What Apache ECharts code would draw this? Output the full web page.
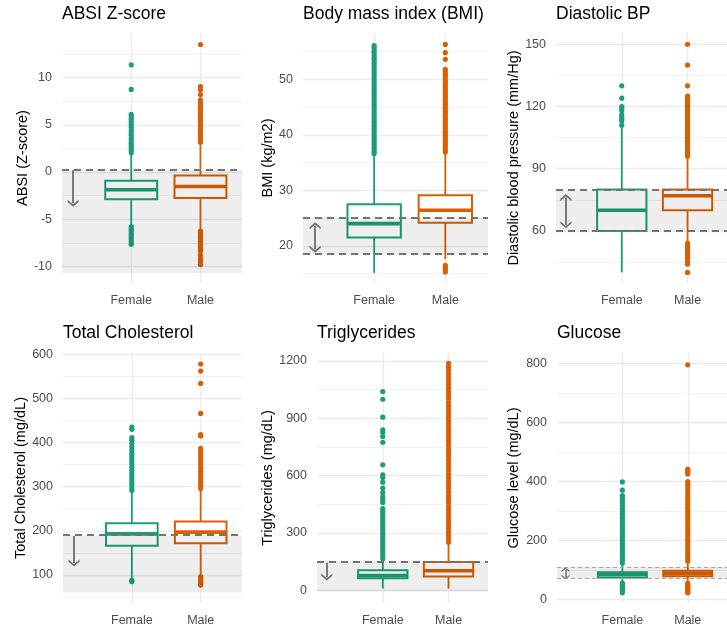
<!DOCTYPE html>
<html><head><meta charset="utf-8">
<script src="https://cdn.jsdelivr.net/npm/echarts@6/dist/echarts.min.js"></script>
<style>html,body{margin:0;padding:0;background:#fff}#c{width:727px;height:631px}</style>
</head><body><div id="c"></div>
<script>
// ---------- data ----------
const categories = ['Female', 'Male'];

// box stats per category: [lower whisker, Q1, median, Q3, upper whisker]
const absiBox = [[-5.65, -2.87, -1.88, -0.93, 1.95], [-6.1, -2.76, -1.53, -0.37, 3.05]];
const absiOutF = [2.05, 2.3, 2.55, 2.8, 3.05, 3.35, 3.6, 3.9, 4.2, 4.45, 4.75, 5.0, 5.3, 5.6, 5.85, 6.1, 8.75, 11.35, -5.8, -6.05, -6.3, -6.6, -6.85, -7.1, -7.4, -7.65];
const absiOutM = [3.15, 3.4, 3.7, 3.95, 4.25, 4.5, 4.8, 5.1, 5.35, 5.65, 5.9, 6.2, 6.45, 6.75, 6.95, 7.3, 7.65, 8.2, 8.7, 9.05, 13.5, -6.25, -6.5, -6.8, -7.05, -7.35, -7.6, -7.9, -8.15, -8.35, -8.8, -9.2, -9.5, -9.8];
const absiRange = [-11.75, 14.72];
const absiTicks = [-10, -5, 0, 5, 10];
const absiMinor = [-7.5, -2.5, 2.5, 7.5, 12.5];
const absiRefs = [0.25];
const absiShade = [0.25, -10.7];
const absiArrow = [0.16, 0.2, -3.3];

const bmiBox = [[15.1, 21.5, 24.0, 27.5, 36.3], [17.6, 24.15, 26.4, 29.1, 36.6]];
const bmiOutF = [36.6, 37.0, 37.5, 38.0, 38.4, 38.9, 39.4, 39.8, 40.3, 40.8, 41.2, 41.7, 42.2, 42.6, 43.1, 43.6, 44.0, 44.5, 45.0, 45.4, 45.9, 46.4, 46.8, 47.3, 47.8, 48.2, 48.7, 49.2, 49.6, 50.1, 50.6, 51.0, 51.5, 52.0, 52.4, 52.9, 53.4, 53.8, 54.3, 54.8, 55.2, 55.7, 56.1];
const bmiOutM = [36.9, 37.3, 37.8, 38.3, 38.7, 39.2, 39.7, 40.1, 40.6, 41.1, 41.5, 42.0, 42.5, 42.9, 43.4, 43.9, 44.3, 44.8, 45.3, 45.7, 46.2, 46.7, 47.1, 47.6, 48.1, 48.5, 49.0, 49.5, 49.9, 50.4, 50.9, 51.3, 51.8, 53.6, 54.8, 56.3, 16.5, 16.1, 15.7, 15.3];
const bmiRange = [13.3, 58.35];
const bmiTicks = [20, 30, 40, 50];
const bmiMinor = [15, 25, 35, 45, 55];
const bmiRefs = [25, 18.5];
const bmiShade = [25, 18.5];
const bmiArrow = [0.17, 23.6, 19.4];

const dbpBox = [[40, 60, 70, 80, 110], [55, 70, 77, 80, 95]];
const dbpOutF = [111, 113, 114, 115, 116, 118, 119, 120, 124, 130];
const dbpOutM = [96, 97, 98, 99, 100, 101, 102, 103, 104, 105, 106, 107, 108, 109, 110, 111, 112, 113, 114, 115, 116, 117, 118, 119, 120, 121, 122, 123, 124, 125, 130, 140, 150, 54, 53, 52, 51, 50, 49, 48, 47, 46, 45, 44, 40];
const dbpRange = [34.9, 155.45];
const dbpTicks = [60, 90, 120, 150];
const dbpMinor = [45, 75, 105, 135];
const dbpRefs = [80, 60];
const dbpShade = [80, 60];
const dbpArrow = [0.15, 76.1, 63.0];

const cholBox = [[91, 166, 193, 217, 288], [99, 172, 197, 221, 292]];
const cholOutF = [292, 298, 305, 311, 318, 324, 331, 337, 344, 350, 357, 363, 370, 376, 383, 390, 398, 405, 411, 430, 435, 88, 85];
const cholOutM = [296, 302, 309, 315, 322, 328, 335, 341, 348, 354, 361, 367, 374, 380, 387, 415, 418, 466, 534, 562, 578, 96, 92, 88, 84, 80, 77];
const cholRange = [36.4, 602.9];
const cholTicks = [100, 200, 300, 400, 500, 600];
const cholMinor = [50, 150, 250, 350, 450, 550];
const cholRefs = [190];
const cholShade = [190, 60];
const cholArrow = [0.16, 188, 127];

const tgBox = [[10, 63, 78, 106, 163], [10, 72, 103, 148, 248]];
const tgOutF = [166, 180, 195, 210, 224, 239, 253, 268, 282, 297, 311, 326, 340, 355, 369, 384, 398, 413, 428, 460, 477, 491, 512, 535, 566, 590, 604, 657, 775, 805, 826, 840, 906, 1000, 1040];
const tgOutM = [252, 270, 289, 308, 327, 345, 364, 383, 402, 420, 439, 458, 477, 495, 514, 533, 552, 570, 589, 608, 627, 645, 664, 683, 702, 720, 739, 758, 777, 795, 814, 833, 852, 870, 889, 908, 927, 945, 964, 983, 1002, 1020, 1039, 1058, 1077, 1095, 1114, 1133, 1152, 1170, 1188];
const tgRange = [-66, 1242];
const tgTicks = [0, 300, 600, 900, 1200];
const tgMinor = [150, 450, 750, 1050];
const tgRefs = [150];
const tgShade = [150, -6];
const tgArrow = [0.15, 145, 70];

const gluBox = [[58, 74, 84, 92, 120], [60, 78, 88, 97, 126]];
const gluOutF = [123, 133, 142, 152, 162, 171, 181, 191, 200, 210, 220, 229, 239, 249, 258, 268, 278, 288, 297, 307, 317, 326, 336, 346, 352, 370, 398, 55, 50, 45, 40, 35, 30, 22];
const gluOutM = [129, 139, 148, 158, 168, 177, 187, 197, 206, 216, 226, 235, 245, 255, 264, 274, 284, 293, 303, 313, 322, 332, 342, 351, 361, 371, 380, 390, 399, 425, 432, 437, 441, 795, 55, 50, 45, 40, 35, 30, 25, 22];
const gluRange = [-12.5, 835];
const gluTicks = [0, 200, 400, 600, 800];
const gluMinor = [100, 300, 500, 700];
const gluRefs = [110, 70];
const gluShade = [110, 70];
const gluArrow = [0.13, 100, 76];

// ---------- style / layout ----------
const FONT = '"Liberation Sans", Arial, Helvetica, sans-serif';
const palette = ['#1B9E77', '#D95F02'];
const GRID_COLOR = '#EBEBEB';
const REF_COLOR = '#737373';
const SHADE = 'rgba(0,0,0,0.065)';
const X_MIN = 0, X_MAX = 2.6, BOX_WIDTH = 0.75;
const CHEV = 'path://M0,0 L10,7 L10,10.5 L0,3.5 L-10,10.5 L-10,7 Z';

const panels = [
  {title: 'ABSI Z-score', yName: 'ABSI (Z-score)', box: absiBox, out: [absiOutF, absiOutM], range: absiRange, ticks: absiTicks, minor: absiMinor, refs: absiRefs, shade: absiShade, arrow: absiArrow, both: false,
   L: {left: 62, top: 33, width: 180, height: 250, gap: 32, titleTop: 5, head: [11, 7]}},
  {title: 'Body mass index (BMI)', yName: 'BMI (kg/m2)', box: bmiBox, out: [bmiOutF, bmiOutM], range: bmiRange, ticks: bmiTicks, minor: bmiMinor, refs: bmiRefs, shade: bmiShade, arrow: bmiArrow, both: true,
   L: {left: 303, top: 33, width: 185, height: 250, gap: 27, titleTop: 5, head: [11, 7]}},
  {title: 'Diastolic BP', yName: 'Diastolic blood pressure (mm/Hg)', box: dbpBox, out: [dbpOutF, dbpOutM], range: dbpRange, ticks: dbpTicks, minor: dbpMinor, refs: dbpRefs, shade: dbpShade, arrow: dbpArrow, both: true,
   L: {left: 556, top: 33, width: 177, height: 250, gap: 33, titleTop: 5, head: [11, 7]}},
  {title: 'Total Cholesterol', yName: 'Total Cholesterol (mg/dL)', box: cholBox, out: [cholOutF, cholOutM], range: cholRange, ticks: cholTicks, minor: cholMinor, refs: cholRefs, shade: cholShade, arrow: cholArrow, both: false,
   L: {left: 63, top: 353, width: 179, height: 250, gap: 32, titleTop: 324, head: [11, 7]}},
  {title: 'Triglycerides', yName: 'Triglycerides (mg/dL)', box: tgBox, out: [tgOutF, tgOutM], range: tgRange, ticks: tgTicks, minor: tgMinor, refs: tgRefs, shade: tgShade, arrow: tgArrow, both: false,
   L: {left: 317, top: 353, width: 171, height: 250, gap: 40, titleTop: 324, head: [11, 7]}},
  {title: 'Glucose', yName: 'Glucose level (mg/dL)', box: gluBox, out: [gluOutF, gluOutM], range: gluRange, ticks: gluTicks, minor: gluMinor, refs: gluRefs, shade: gluShade, arrow: gluArrow, both: true, lightRef: true,
   L: {left: 557, top: 353, width: 176, height: 250, gap: 36, titleTop: 324, head: [8, 4.5]}}
];

function renderBox(params, api) {
  const k = params.dataIndex;
  const c = palette[k];
  const x = api.value(0);
  const p = [1, 2, 3, 4, 5].map(d => api.coord([x, api.value(d)]));
  const half = api.size([BOX_WIDTH, 0])[0] / 2;
  const cx = p[0][0];
  const lw = 2;
  return {type: 'group', children: [
    {type: 'line', shape: {x1: cx, y1: p[0][1], x2: cx, y2: p[1][1]}, style: {stroke: c, lineWidth: 1.8}},
    {type: 'line', shape: {x1: cx, y1: p[3][1], x2: cx, y2: p[4][1]}, style: {stroke: c, lineWidth: 1.8}},
    {type: 'rect', shape: {x: cx - half, y: p[3][1], width: 2 * half, height: p[1][1] - p[3][1]}, style: {fill: '#fff', stroke: c, lineWidth: lw}},
    {type: 'line', shape: {x1: cx - half, y1: p[2][1], x2: cx + half, y2: p[2][1]}, style: {stroke: c, lineWidth: 3.6}}
  ]};
}

const option = {animation: false, backgroundColor: '#fff', title: [], grid: [], xAxis: [], yAxis: [], series: []};
const labelStyle = {color: '#4D4D4D', fontSize: 12.5, fontFamily: FONT};

panels.forEach((p, i) => {
  const L = p.L;
  option.title.push({text: p.title, left: L.left, top: L.titleTop, padding: 0,
    textStyle: {fontFamily: FONT, fontSize: 17.5, fontWeight: 'normal', color: '#000'}});
  option.grid.push({left: L.left, top: L.top, width: L.width, height: L.height, containLabel: false});
  option.xAxis.push({type: 'value', gridIndex: i, min: X_MIN, max: X_MAX,
    axisLine: {show: false}, axisTick: {show: false}, splitLine: {show: false},
    axisLabel: Object.assign({customValues: categories.map((c, k) => k + 1),
      formatter: v => categories[Math.round(v) - 1] || '', margin: 11}, labelStyle)});
  option.yAxis.push({type: 'value', gridIndex: i, min: p.range[0], max: p.range[1],
    name: p.yName, nameLocation: 'middle', nameGap: L.gap,
    nameTextStyle: {fontFamily: FONT, fontSize: 14.5, color: '#000'},
    axisLine: {show: false}, axisTick: {show: false}, splitLine: {show: false},
    axisLabel: Object.assign({customValues: p.ticks, margin: 10, formatter: v => String(v)}, labelStyle)});

  // grid lines
  option.series.push({type: 'scatter', xAxisIndex: i, yAxisIndex: i, data: [], silent: true,
    markLine: {silent: true, z: 0, symbol: ['none', 'none'], label: {show: false}, animation: false,
      data: [].concat(
        p.ticks.map(v => ({yAxis: v, lineStyle: {color: GRID_COLOR, width: 1.3, type: 'solid'}})),
        p.minor.map(v => ({yAxis: v, lineStyle: {color: GRID_COLOR, width: 0.7, type: 'solid'}})),
        categories.map((c, k) => ({xAxis: k + 1, lineStyle: {color: GRID_COLOR, width: 1.3, type: 'solid'}}))
      )}});

  // boxes
  option.series.push({type: 'custom', xAxisIndex: i, yAxisIndex: i, z: 2, silent: true,
    renderItem: renderBox, encode: {x: 0, y: [1, 2, 3, 4, 5]},
    data: p.box.map((b, k) => [k + 1].concat(b))});

  // outliers
  p.out.forEach((arr, k) => option.series.push({type: 'scatter', xAxisIndex: i, yAxisIndex: i, z: 2, silent: true,
    symbolSize: 5.2, itemStyle: {color: palette[k], opacity: 1}, data: arr.map(v => [k + 1, v])}));

  // shade, reference lines, arrow
  const refStyle = p.lightRef ? {color: '#A6A6A6', width: 1, type: [4, 3]} : {color: REF_COLOR, width: 1.9, type: [7, 5]};
  const arrowStyle = {color: REF_COLOR, width: p.lightRef ? 1.5 : 1.9, type: 'solid'};
  option.series.push({type: 'scatter', xAxisIndex: i, yAxisIndex: i, data: [], silent: true,
    markArea: {silent: true, z: 3, itemStyle: {color: SHADE}, label: {show: false},
      data: [[{coord: [X_MIN, p.shade[0]]}, {coord: [X_MAX, p.shade[1]]}]]},
    markLine: {silent: true, z: 5, symbol: ['none', 'none'], label: {show: false}, animation: false,
      data: p.refs.map(v => ({yAxis: v, lineStyle: refStyle})).concat([[
        {coord: [p.arrow[0], p.arrow[1]], symbol: p.both ? CHEV : 'none', symbolSize: L.head, lineStyle: arrowStyle, itemStyle: {color: REF_COLOR}},
        {coord: [p.arrow[0], p.arrow[2]], symbol: CHEV, symbolSize: L.head, lineStyle: arrowStyle, itemStyle: {color: REF_COLOR}}
      ]])}});
});

const chart = echarts.init(document.getElementById('c'), null, {renderer: 'canvas'});
chart.setOption(option);
</script></body></html>
